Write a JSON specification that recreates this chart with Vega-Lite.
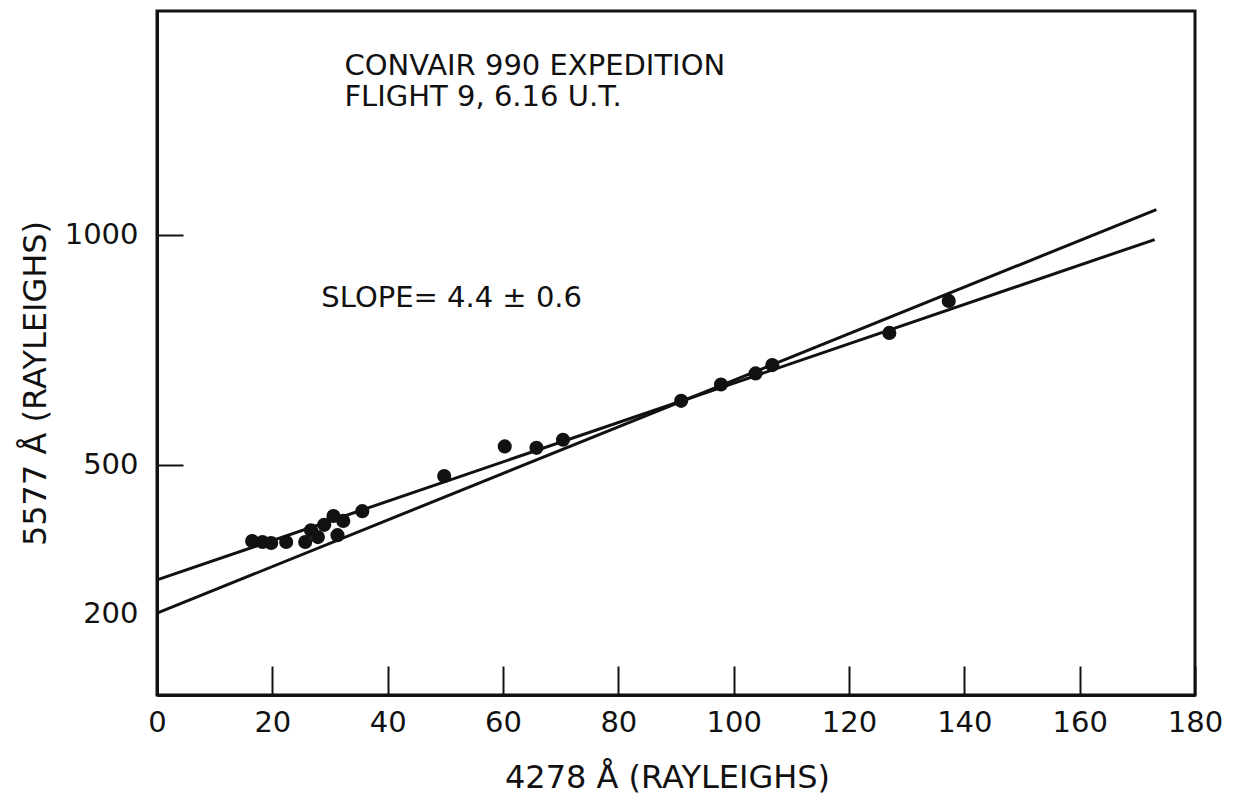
{
  "$schema": "https://vega.github.io/schema/vega-lite/v6.json",
  "width": 1038,
  "height": 684,
  "autosize": {"type": "none"},
  "padding": {"left": 157, "top": 11, "right": 40, "bottom": 103},
  "background": "white",
  "config": {
    "font": "DejaVu Sans",
    "view": {"stroke": "#111", "strokeWidth": 3}
  },
  "datasets": {
    "points": [
      {"x": 16.5, "y": 343}, {"x": 18.3, "y": 341}, {"x": 19.8, "y": 339},
      {"x": 22.4, "y": 341}, {"x": 25.7, "y": 341}, {"x": 26.7, "y": 365},
      {"x": 27.9, "y": 351}, {"x": 29.0, "y": 376}, {"x": 30.6, "y": 394},
      {"x": 31.3, "y": 355}, {"x": 32.3, "y": 384}, {"x": 35.6, "y": 404},
      {"x": 49.8, "y": 477}, {"x": 60.3, "y": 539}, {"x": 65.8, "y": 536},
      {"x": 70.4, "y": 553}, {"x": 90.9, "y": 636}, {"x": 97.8, "y": 671},
      {"x": 103.8, "y": 695}, {"x": 106.7, "y": 713}, {"x": 127.0, "y": 783},
      {"x": 137.3, "y": 853}
    ],
    "lines": [
      {"fit": "steep", "x": 0, "y": 200}, {"fit": "steep", "x": 173.3, "y": 1056},
      {"fit": "shallow", "x": 0, "y": 265}, {"fit": "shallow", "x": 173.0, "y": 989}
    ],
    "notes": [
      {"x": 32.5, "y": 1361, "label": "CONVAIR 990 EXPEDITION"},
      {"x": 32.5, "y": 1290, "label": "FLIGHT 9, 6.16 U.T."},
      {"x": 28.5, "y": 840, "label": "SLOPE= 4.4 ± 0.6"}
    ]
  },
  "encoding": {
    "x": {
      "field": "x",
      "type": "quantitative",
      "scale": {"domain": [0, 180], "nice": false, "zero": false},
      "axis": {
        "title": "4278 Å (RAYLEIGHS)",
        "values": [0, 20, 40, 60, 80, 100, 120, 140, 160, 180],
        "format": "d",
        "grid": false,
        "domainColor": "#111",
        "domainWidth": 3,
        "tickColor": "#111",
        "tickWidth": 2,
        "tickSize": -29,
        "labelPadding": 42,
        "labelFont": "DejaVu Sans",
        "labelFontSize": 29,
        "labelColor": "#111",
        "labelFlush": false,
        "labelOverlap": false,
        "titleFont": "DejaVu Sans",
        "titleFontSize": 32,
        "titleFontWeight": "normal",
        "titleColor": "#111",
        "titleX": 510,
        "titleY": 92,
        "titleBaseline": "alphabetic"
      }
    },
    "y": {
      "field": "y",
      "type": "quantitative",
      "scale": {"type": "pow", "exponent": 0.91, "domain": [49.6, 1509], "nice": false, "zero": false},
      "axis": {
        "title": "5577 Å (RAYLEIGHS)",
        "values": [200, 500, 1000],
        "format": "d",
        "grid": false,
        "domainColor": "#111",
        "domainWidth": 3,
        "tickColor": {"condition": {"test": "datum.value < 300", "value": "transparent"}, "value": "#111"},
        "tickWidth": 2,
        "tickSize": -26,
        "labelPadding": 45,
        "labelFont": "DejaVu Sans",
        "labelFontSize": 29,
        "labelColor": "#111",
        "labelOverlap": false,
        "titleFont": "DejaVu Sans",
        "titleFontSize": 32,
        "titleFontWeight": "normal",
        "titleColor": "#111",
        "titleX": -112,
        "titleY": 372,
        "titleBaseline": "alphabetic"
      }
    }
  },
  "layer": [
    {
      "data": {"name": "lines"},
      "mark": {"type": "line", "stroke": "#111", "strokeWidth": 3},
      "encoding": {"detail": {"field": "fit"}}
    },
    {
      "data": {"name": "points"},
      "mark": {"type": "point", "shape": "circle", "filled": true, "size": 200, "color": "#111", "opacity": 1}
    },
    {
      "data": {"name": "notes"},
      "mark": {"type": "text", "align": "left", "baseline": "alphabetic", "font": "DejaVu Sans", "fontSize": 29, "color": "#111"},
      "encoding": {"text": {"field": "label"}}
    }
  ]
}
